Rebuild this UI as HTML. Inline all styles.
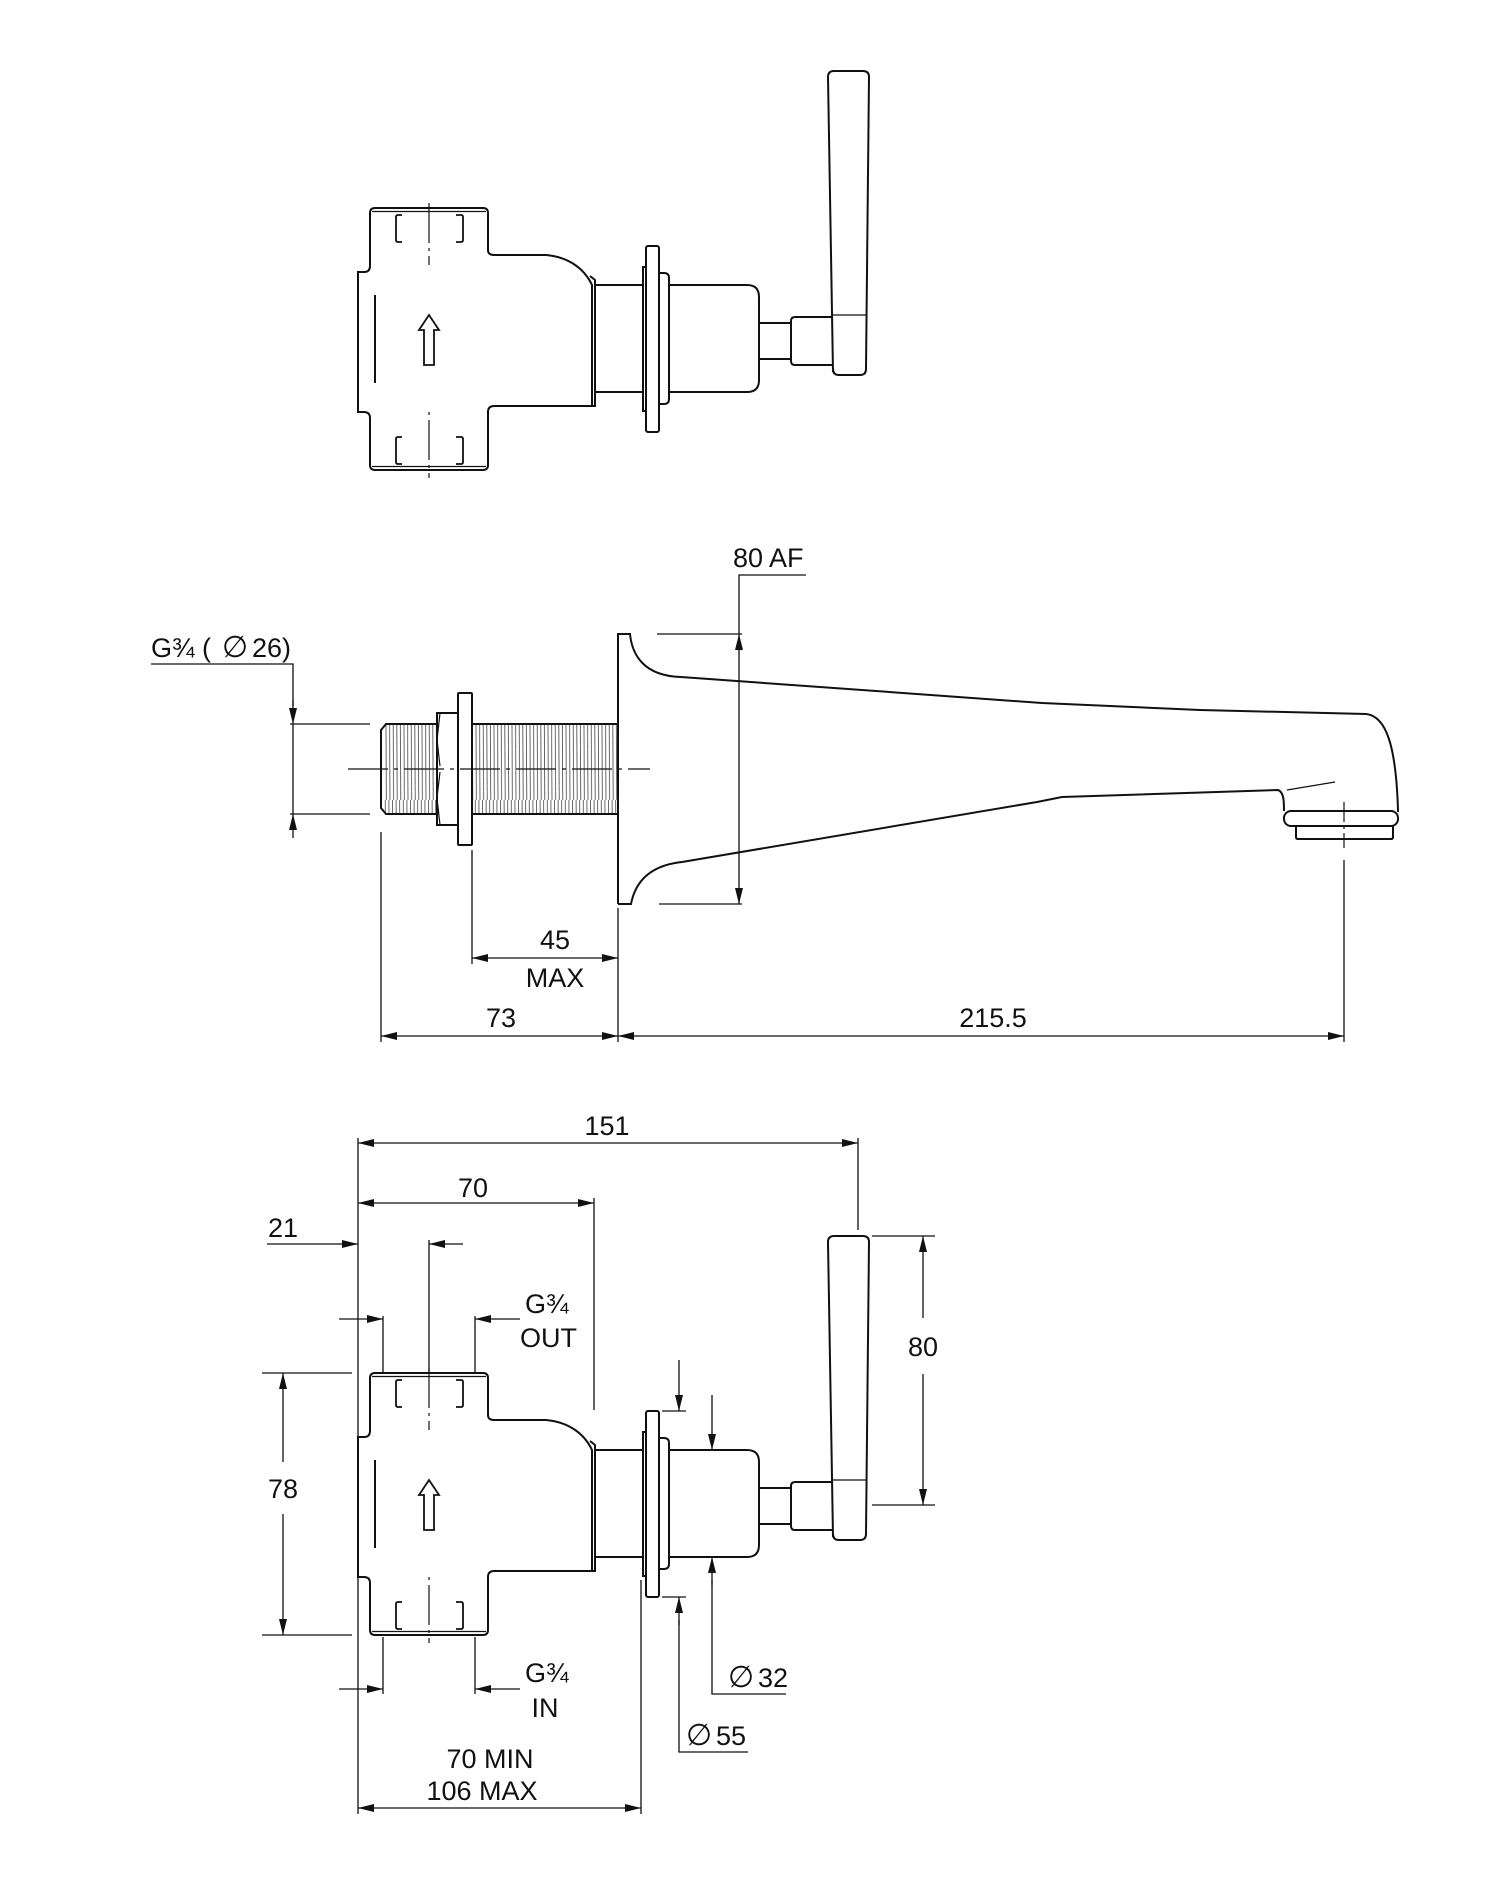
<!DOCTYPE html>
<html><head><meta charset="utf-8"><style>
html,body{margin:0;padding:0;background:#fff;}
svg{display:block;}
text{font-family:"Liberation Sans","DejaVu Sans",sans-serif;font-size:27px;fill:#111;}
</style></head><body>
<svg width="1510" height="1878" viewBox="0 0 1510 1878" xmlns="http://www.w3.org/2000/svg">
<defs>
<marker id="a" viewBox="0 0 16 8" refX="16" refY="4" markerWidth="16" markerHeight="8" markerUnits="userSpaceOnUse" orient="auto-start-reverse"><path d="M0,0 L16,4 L0,8 z" fill="#111"/></marker>
<pattern id="thr" patternUnits="userSpaceOnUse" width="3.6" height="200"><line x1="0.5" y1="0" x2="1.6" y2="200" stroke="#444" stroke-width="0.8"/></pattern>
<g id="valve" fill="none" stroke="#111" stroke-width="2">
 <path d="M370,213 Q370,208 375,208 L483,208 Q488,208 488,213 L488,250 Q488,255 494,255 L546,255 C568,257 584,268 592,285 L592,406 L494,406 Q488,406 488,412 L488,465 Q488,470 483,470 L375,470 Q370,470 370,465 L370,418 Q370,412 364,412 L358,412 L358,272 L364,272 Q370,272 370,266 Z"/>
 <line x1="372" y1="211.5" x2="486" y2="211.5" stroke-width="1.2"/>
 <line x1="372" y1="466.5" x2="486" y2="466.5" stroke-width="1.2"/>
 <line x1="375" y1="295" x2="375" y2="383"/>
 <path d="M424,365 L424,330 L419,330 L429,315 L439,330 L434,330 L434,365 Z" stroke-width="1.8"/>
 <path d="M402,215 L398,215 Q396,215 396,217 L396,240 Q396,242 398,242 L402,242 M456,215 L461,215 Q463,215 463,217 L463,240 Q463,242 461,242 L456,242" stroke-width="1.8"/>
 <path d="M402,437 L398,437 Q396,437 396,439 L396,462 Q396,464 398,464 L402,464 M456,437 L461,437 Q463,437 463,439 L463,462 Q463,464 461,464 L456,464" stroke-width="1.8"/>
 <line x1="429" y1="203" x2="429" y2="265" stroke-width="1.2" stroke-dasharray="40,5,3,5"/>
 <line x1="429" y1="412" x2="429" y2="478" stroke-width="1.2" stroke-dasharray="3,5,40,5"/>
 <path d="M590,276 L595,280 L595,406 L592,406"/>
 <line x1="595" y1="285" x2="643" y2="285"/>
 <line x1="595" y1="392" x2="643" y2="392"/>
 <rect x="643" y="267" width="3" height="144"/>
 <rect x="646" y="246" width="13" height="186" rx="2"/>
 <path d="M659,273 L664,273 Q669,273 669,278 L669,399 Q669,404 664,404 L659,404"/>
 <path d="M669,285 L747,285 Q759,285 759,297 L759,380 Q759,392 747,392 L669,392"/>
 <path d="M759,323 L791,323 M759,359 L791,359"/>
 <path d="M791,321 Q791,317 795,317 L833,317 M791,321 L791,361 Q791,365 795,365 L833,365"/>
 <path d="M833,372 L828,77 Q828,71 834,71 L863,71 Q869,71 869,77 L866,369 Q866,375 860,375 L839,375 Q833,375 833,369 Z"/>
 <line x1="833" y1="315" x2="866" y2="315" stroke-width="1.2"/>
</g>
</defs>

<!-- TOP VIEW -->
<use href="#valve"/>

<!-- MIDDLE VIEW -->
<g fill="none" stroke="#111" stroke-width="2" transform="translate(14,0)">
 <rect x="370" y="724" width="53" height="90" fill="url(#thr)" stroke="none"/>
 <rect x="458" y="724" width="146" height="90" fill="url(#thr)" stroke="none"/>
 <path d="M423,724 L372,724 L367,730 L367,808 L372,814 L423,814"/>
 <path d="M458,724 L604,724 M458,814 L604,814"/>
 <rect x="423" y="713" width="21" height="112"/>
 <path d="M426,713 L423,740 L426,766 M426,772 L423,798 L426,825" stroke-width="1.2"/>
 <rect x="444" y="693" width="14" height="152" rx="1"/>
 <path d="M604,904 L604,634 L616,634 C618,655 630,676 667,677 L1028,703 L1186,710 L1352,714 C1372,716 1382,745 1384,810 L1384,812"/>
 <path d="M604,904 L617,904 C622,878 640,865 668,862 L1023,802 L1048,797 L1264,790 C1270,792 1270,802 1270,811"/>
 <line x1="1273" y1="790" x2="1321" y2="782" stroke-width="1.3"/>
 <rect x="1270" y="811" width="114" height="15" rx="7"/>
 <path d="M1282,826 L1282,837 Q1282,839 1284,839 L1377,839 Q1379,839 1379,837 L1379,826"/>
 <line x1="334" y1="769" x2="636" y2="769" stroke-width="1.2" stroke-dasharray="40,6,4,6"/>
 <line x1="1330" y1="802" x2="1330" y2="848" stroke-width="1.2" stroke-dasharray="20,4,3,4"/>
</g>
<g stroke="#111" stroke-width="1.3" fill="none">
 <polyline points="151,664 293,664 293,706"/>
 <line x1="293" y1="700" x2="293" y2="724" marker-end="url(#a)"/>
 <line x1="293" y1="838" x2="293" y2="814" marker-end="url(#a)"/>
 <line x1="293" y1="724" x2="293" y2="814"/>
 <line x1="290" y1="724" x2="370" y2="724"/>
 <line x1="290" y1="814" x2="370" y2="814"/>
</g>
<g stroke="#111" stroke-width="1.3" fill="none" transform="translate(14,0)">
 <polyline points="792,575 725,575 725,634"/>
 <line x1="725" y1="634" x2="725" y2="904" marker-start="url(#a)" marker-end="url(#a)"/>
 <line x1="643" y1="634" x2="728" y2="634"/>
 <line x1="645" y1="904" x2="728" y2="904"/>
 <line x1="367" y1="832" x2="367" y2="1042"/>
 <line x1="458" y1="850" x2="458" y2="964"/>
 <line x1="604" y1="908" x2="604" y2="1042"/>
 <line x1="1330" y1="860" x2="1330" y2="1042"/>
 <line x1="458" y1="958" x2="604" y2="958" marker-start="url(#a)" marker-end="url(#a)"/>
 <line x1="367" y1="1036" x2="604" y2="1036" marker-start="url(#a)" marker-end="url(#a)"/>
 <line x1="604" y1="1036" x2="1330" y2="1036" marker-start="url(#a)" marker-end="url(#a)"/>
</g>
<text x="151" y="657">G¾ (</text>
<text x="222" y="657" style="font-size:30px">∅</text>
<text x="252" y="657">26)</text>
<text x="733" y="567">80 AF</text>
<text x="555" y="949" text-anchor="middle">45</text>
<text x="555" y="987" text-anchor="middle">MAX</text>
<text x="501" y="1027" text-anchor="middle">73</text>
<text x="993" y="1027" text-anchor="middle">215.5</text>

<!-- BOTTOM VIEW -->
<use href="#valve" transform="translate(0,1165)"/>
<g stroke="#111" stroke-width="1.3" fill="none">
 <line x1="358" y1="1138" x2="358" y2="1814"/>
 <line x1="858" y1="1138" x2="858" y2="1230"/>
 <line x1="358" y1="1143" x2="858" y2="1143" marker-start="url(#a)" marker-end="url(#a)"/>
 <line x1="594" y1="1198" x2="594" y2="1410"/>
 <line x1="358" y1="1203" x2="594" y2="1203" marker-start="url(#a)" marker-end="url(#a)"/>
 <line x1="267" y1="1244" x2="358" y2="1244" marker-end="url(#a)"/>
 <line x1="463" y1="1244" x2="429" y2="1244" marker-end="url(#a)"/>
 <line x1="429" y1="1240" x2="429" y2="1372"/>
 <line x1="339" y1="1319" x2="383" y2="1319" marker-end="url(#a)"/>
 <line x1="383" y1="1316" x2="383" y2="1372"/>
 <line x1="520" y1="1319" x2="475" y2="1319" marker-end="url(#a)"/>
 <line x1="475" y1="1316" x2="475" y2="1372"/>
 <line x1="339" y1="1689" x2="383" y2="1689" marker-end="url(#a)"/>
 <line x1="383" y1="1637" x2="383" y2="1694"/>
 <line x1="520" y1="1689" x2="475" y2="1689" marker-end="url(#a)"/>
 <line x1="475" y1="1637" x2="475" y2="1694"/>
 <line x1="262" y1="1373" x2="352" y2="1373"/>
 <line x1="262" y1="1635" x2="352" y2="1635"/>
 <line x1="283" y1="1462" x2="283" y2="1373" marker-end="url(#a)"/>
 <line x1="283" y1="1514" x2="283" y2="1635" marker-end="url(#a)"/>
 <line x1="872" y1="1236" x2="935" y2="1236"/>
 <line x1="872" y1="1505" x2="935" y2="1505"/>
 <line x1="923" y1="1318" x2="923" y2="1236" marker-end="url(#a)"/>
 <line x1="923" y1="1374" x2="923" y2="1505" marker-end="url(#a)"/>
 <line x1="662" y1="1411" x2="686" y2="1411"/>
 <line x1="662" y1="1597" x2="686" y2="1597"/>
 <line x1="679" y1="1360" x2="679" y2="1411" marker-end="url(#a)"/>
 <polyline points="748,1752 679,1752 679,1620"/>
 <line x1="679" y1="1625" x2="679" y2="1597" marker-end="url(#a)"/>
 <line x1="712" y1="1395" x2="712" y2="1450" marker-end="url(#a)"/>
 <polyline points="786,1694 712,1694 712,1580"/>
 <line x1="712" y1="1585" x2="712" y2="1557" marker-end="url(#a)"/>
 <line x1="641" y1="1580" x2="641" y2="1814"/>
 <line x1="358" y1="1808" x2="641" y2="1808" marker-start="url(#a)" marker-end="url(#a)"/>
</g>
<text x="607" y="1135" text-anchor="middle">151</text>
<text x="473" y="1197" text-anchor="middle">70</text>
<text x="268" y="1237">21</text>
<text x="525" y="1313">G¾</text>
<text x="520" y="1347">OUT</text>
<text x="525" y="1682">G¾</text>
<text x="545" y="1717" text-anchor="middle">IN</text>
<text x="283" y="1498" text-anchor="middle">78</text>
<text x="923" y="1356" text-anchor="middle">80</text>
<text x="728" y="1687" style="font-size:30px">∅</text>
<text x="758" y="1687">32</text>
<text x="686" y="1745" style="font-size:30px">∅</text>
<text x="716" y="1745">55</text>
<text x="490" y="1768" text-anchor="middle">70 MIN</text>
<text x="482" y="1800" text-anchor="middle">106 MAX</text>
</svg>
</body></html>
